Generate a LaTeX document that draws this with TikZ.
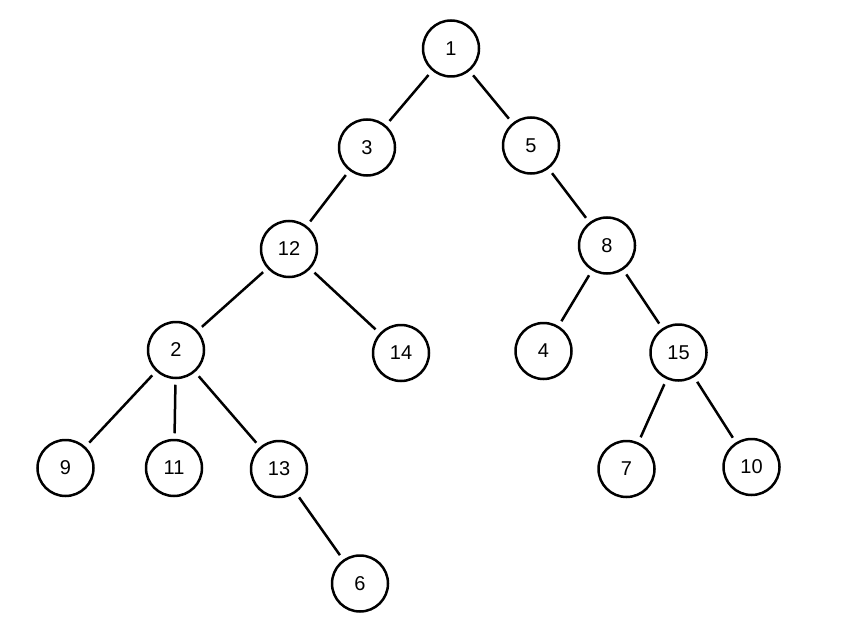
\documentclass[tikz,border=0pt]{standalone}
\usepackage{fontspec}
\setmainfont{Liberation Sans}
\begin{document}
\begin{tikzpicture}[x=1pt,y=-1pt,
  tnode/.style={draw, circle, line width=2.5pt, minimum size=56pt, inner sep=0pt,
    font=\fontsize{20}{20}\selectfont},
  tedge/.style={line width=2.5pt, shorten <=5.5pt, shorten >=5.5pt}]
\useasboundingbox (0,0) rectangle (842,628);
\node[tnode] (n1)  at (451,48.5) {1};
\node[tnode] (n3)  at (367,147.5) {3};
\node[tnode] (n5)  at (531,145.5) {5};
\node[tnode] (n12) at (289,249) {12};
\node[tnode] (n8)  at (607,245.5) {8};
\node[tnode] (n2)  at (176,350) {2};
\node[tnode] (n14) at (401,353) {14};
\node[tnode] (n4)  at (543.5,351) {4};
\node[tnode] (n15) at (678.5,352.5) {15};
\node[tnode] (n9)  at (65.5,468) {9};
\node[tnode] (n11) at (174,468) {11};
\node[tnode] (n13) at (279,469) {13};
\node[tnode] (n7)  at (626.5,469) {7};
\node[tnode] (n10) at (751.5,467) {10};
\node[tnode] (n6)  at (360,583.5) {6};
\draw[tedge] (n1) -- (n3);
\draw[tedge] (n1) -- (n5);
\draw[tedge] (n3) -- (n12);
\draw[tedge] (n5) -- (n8);
\draw[tedge] (n12) -- (n2);
\draw[tedge] (n12) -- (n14);
\draw[tedge] (n8) -- (n4);
\draw[tedge] (n8) -- (n15);
\draw[tedge] (n2) -- (n9);
\draw[tedge] (n2) -- (n11);
\draw[tedge] (n2) -- (n13);
\draw[tedge] (n15) -- (n7);
\draw[tedge] (n15) -- (n10);
\draw[tedge] (n13) -- (n6);
\end{tikzpicture}
\end{document}
